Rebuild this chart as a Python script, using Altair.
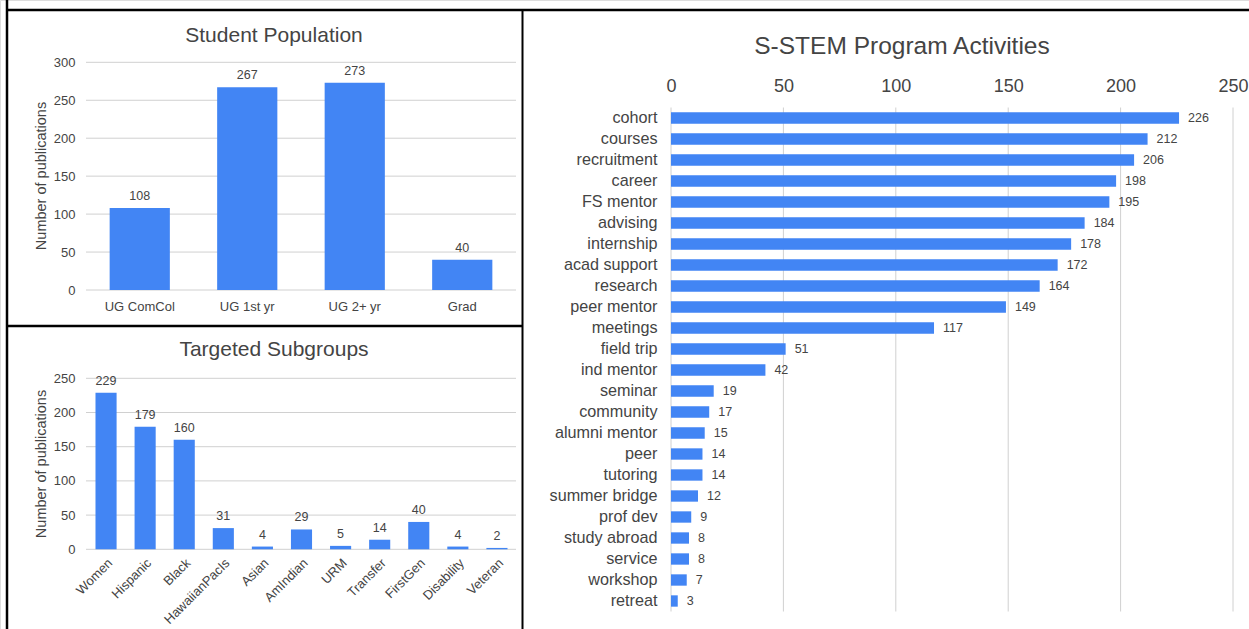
import altair as alt
import pandas as pd

# ---------------- data ----------------
pop_cats = ["UG ComCol", "UG 1st yr", "UG 2+ yr", "Grad"]
pop_vals = [108, 267, 273, 40]
pop_ticks = [0, 50, 100, 150, 200, 250, 300]

sub_cats = ["Women", "Hispanic", "Black", "HawaiianPacIs", "Asian", "AmIndian",
            "URM", "Transfer", "FirstGen", "Disability", "Veteran"]
sub_vals = [229, 179, 160, 31, 4, 29, 5, 14, 40, 4, 2]
sub_ticks = [0, 50, 100, 150, 200, 250]

act_cats = ["cohort", "courses", "recruitment", "career", "FS mentor", "advising",
            "internship", "acad support", "research", "peer mentor", "meetings",
            "field trip", "ind mentor", "seminar", "community", "alumni mentor",
            "peer", "tutoring", "summer bridge", "prof dev", "study abroad",
            "service", "workshop", "retreat"]
act_vals = [226, 212, 206, 198, 195, 184, 178, 172, 164, 149, 117, 51, 42,
            19, 17, 15, 14, 14, 12, 9, 8, 8, 7, 3]
act_ticks = [0, 50, 100, 150, 200, 250]

# ---------------- style ----------------
W, H = 1249, 629
BLUE = "#4285F4"
GRID = "#d0d0d0"
TXT = "#444444"
FONT = "Liberation Sans, Arial, sans-serif"
one = alt.Data(values=[{}])


def axis(**kw):
    base = dict(title=None, domain=False, ticks=False, tickSize=0, grid=False,
                labelColor=TXT, labelFlush=False, labelOverlap=False, labelBound=False)
    base.update(kw)
    return alt.Axis(**base)


def label(text, x, y, size, angle=0, baseline="alphabetic"):
    return alt.Chart(one).mark_text(
        text=text, font=FONT, fontSize=size, color=TXT, align="center",
        baseline=baseline, angle=angle
    ).encode(x=alt.value(x), y=alt.value(y))


def vrule(x, y1, y2, w):
    return alt.Chart(one).mark_rule(color="black", strokeWidth=w).encode(
        x=alt.value(x), y=alt.value(y1), y2=alt.value(y2))


def hrule(y, x1, x2, w):
    return alt.Chart(one).mark_rule(color="black", strokeWidth=w).encode(
        y=alt.value(y), x=alt.value(x1), x2=alt.value(x2))


# ---------------- panel A: Student Population ----------------
a_df = pd.DataFrame({"c": pop_cats, "v": pop_vals})
a_x = alt.X("c:N", sort=pop_cats,
            scale=alt.Scale(range=[86, 516], paddingInner=0.44, paddingOuter=0.22),
            axis=axis(orient="bottom", offset=-(H - 290), labelPadding=10,
                      labelFont=FONT, labelFontSize=13, labelAngle=0))
a_y = alt.Y("v:Q", scale=alt.Scale(domain=[0, 300], range=[290, 62.3], nice=False),
            axis=axis(orient="left", offset=-86, labelPadding=11, values=pop_ticks,
                      labelFont=FONT, labelFontSize=13))
a_grid = alt.Chart(pd.DataFrame({"v": pop_ticks})).mark_rule(color=GRID, strokeWidth=1).encode(
    y=a_y, x=alt.value(86), x2=alt.value(516))
a_bars = alt.Chart(a_df).mark_bar(color=BLUE).encode(x=a_x, y=a_y)
a_text = alt.Chart(a_df).mark_text(dy=-8, baseline="alphabetic", font=FONT, fontSize=12.5,
                                   color=TXT).encode(x=a_x, y=a_y, text="v:Q")
panel_a = alt.layer(a_grid, a_bars, a_text)

# ---------------- panel B: Targeted Subgroups ----------------
b_df = pd.DataFrame({"c": sub_cats, "v": sub_vals})
b_x = alt.X("c:N", sort=sub_cats,
            scale=alt.Scale(range=[86.5, 516.5], paddingInner=0.46, paddingOuter=0.23),
            axis=axis(orient="bottom", offset=-(H - 549.3), labelPadding=7,
                      labelFont=FONT, labelFontSize=13, labelAngle=-45,
                      labelAlign="right", labelBaseline="top"))
b_y = alt.Y("v:Q", scale=alt.Scale(domain=[0, 250], range=[549.3, 378.3], nice=False),
            axis=axis(orient="left", offset=-86, labelPadding=11, values=sub_ticks,
                      labelFont=FONT, labelFontSize=13))
b_grid = alt.Chart(pd.DataFrame({"v": sub_ticks})).mark_rule(color=GRID, strokeWidth=1).encode(
    y=b_y, x=alt.value(86), x2=alt.value(516))
b_bars = alt.Chart(b_df).mark_bar(color=BLUE).encode(x=b_x, y=b_y)
b_text = alt.Chart(b_df).mark_text(dy=-8, baseline="alphabetic", font=FONT, fontSize=12.5,
                                   color=TXT).encode(x=b_x, y=b_y, text="v:Q")
panel_b = alt.layer(b_grid, b_bars, b_text)

# ---------------- panel C: S-STEM Program Activities ----------------
c_df = pd.DataFrame({"c": act_cats, "v": act_vals})
c_x = alt.X("v:Q", scale=alt.Scale(domain=[0, 250], range=[671, 1233], nice=False),
            axis=axis(orient="top", offset=-107.5, labelPadding=12, values=act_ticks,
                      labelFont=FONT, labelFontSize=18))
c_y = alt.Y("c:N", sort=act_cats,
            scale=alt.Scale(range=[107.5, 611.5], paddingInner=0.46, paddingOuter=0.23),
            axis=axis(orient="left", offset=-671, labelPadding=14,
                      labelFont=FONT, labelFontSize=16.2))
c_grid = alt.Chart(pd.DataFrame({"v": act_ticks})).mark_rule(color=GRID, strokeWidth=1).encode(
    x=c_x, y=alt.value(107.5), y2=alt.value(611.5))
c_bars = alt.Chart(c_df).mark_bar(color=BLUE).encode(x=c_x, y=c_y)
c_text = alt.Chart(c_df).mark_text(dx=9, align="left", baseline="middle", font=FONT,
                                   fontSize=12.5, color=TXT).encode(x=c_x, y=c_y, text="v:Q")
panel_c = alt.layer(c_grid, c_bars, c_text)

# ---------------- titles & frame ----------------
titles = [
    label("Student Population", 274, 42, 21),
    label("Number of publications", 42, 176, 14.5, angle=270, baseline="middle"),
    label("Targeted Subgroups", 274, 356, 21),
    label("Number of publications", 42, 464, 14.5, angle=270, baseline="middle"),
    label("S-STEM Program Activities", 902, 54, 24.5),
]
frame = [
    vrule(7, 0, H, 2.5),
    hrule(10, 6, W, 2.5),
    vrule(522.5, 10, H, 2),
    hrule(326, 6, 522, 2.5),
]

chart = alt.layer(panel_a, panel_b, panel_c, *titles, *frame).resolve_scale(
    x="independent", y="independent"
).resolve_axis(
    x="independent", y="independent"
).properties(
    width=W, height=H, padding=0,
    autosize=alt.AutoSizeParams(type="none"),
).configure_view(stroke=None).configure(background="white")

chart.save("out.html", embed_options={"renderer": "svg", "actions": False})
